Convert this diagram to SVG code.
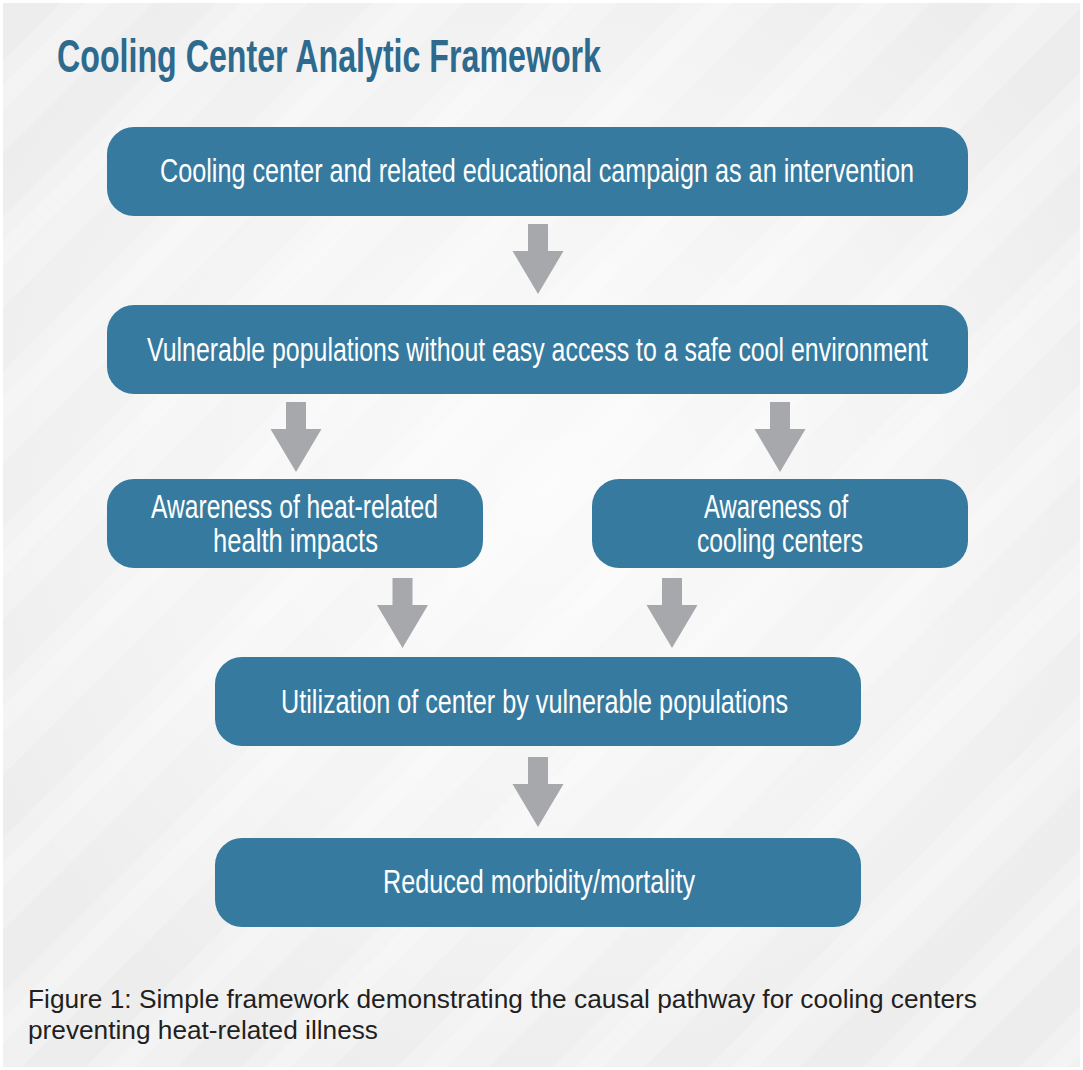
<svg xmlns="http://www.w3.org/2000/svg" width="1083" height="1070" viewBox="0 0 1083 1070">
  <defs>
    <pattern id="stripes" patternUnits="userSpaceOnUse" width="110" height="110" patternTransform="rotate(-45)">
      <rect x="0" y="0" width="110" height="110" fill="#f0f0f1"/>
      <rect x="0" y="0" width="110" height="45" fill="#ececed"/>
      <rect x="0" y="62" width="110" height="18" fill="#f3f3f4"/>
    </pattern>
    <radialGradient id="glow" cx="0.5" cy="0.45" r="0.6">
      <stop offset="0" stop-color="#ffffff" stop-opacity="0.75"/>
      <stop offset="0.6" stop-color="#ffffff" stop-opacity="0.4"/>
      <stop offset="1" stop-color="#ffffff" stop-opacity="0.05"/>
    </radialGradient>
    <path id="arrow" d="M-10,0 H10 V27 H25.5 L0,70 L-25.5,27 H-10 Z"/>
    <style>
      .box { fill: #367b9f; }
      .bt { font-family: "Liberation Sans", "DejaVu Sans", sans-serif; font-size: 25px; fill: #ffffff; text-anchor: middle; }
      .arr { fill: #a7a8ab; }
      .title { font-family: "Liberation Sans", "DejaVu Sans", sans-serif; font-weight: bold; font-size: 46px; fill: #2d6a8d; }
      .cap { font-family: "Liberation Sans", "DejaVu Sans", sans-serif; font-size: 25px; fill: #231f20; }
    </style>
  </defs>

  <rect x="0" y="0" width="1083" height="1070" fill="#ffffff"/>
  <rect x="3" y="3" width="1077" height="1064" fill="url(#stripes)"/>
  <rect x="3" y="3" width="1077" height="1064" fill="url(#glow)"/>

  <text class="title" x="57" y="72" textLength="544" lengthAdjust="spacingAndGlyphs">Cooling Center Analytic Framework</text>

  <g id="connectors">
    <use href="#arrow" class="arr" x="538" y="224"/>
    <use href="#arrow" class="arr" x="296" y="402"/>
    <use href="#arrow" class="arr" x="780" y="402"/>
    <use href="#arrow" class="arr" x="402.5" y="578"/>
    <use href="#arrow" class="arr" x="672" y="578"/>
    <use href="#arrow" class="arr" x="538" y="757"/>
  </g>

  <g id="node-intervention">
    <rect class="box" x="107" y="127" width="861" height="89" rx="27"/>
    <text class="bt" transform="matrix(1 0 0 1.32 537 182)" textLength="754" lengthAdjust="spacingAndGlyphs">Cooling center and related educational campaign as an intervention</text>
  </g>

  <g id="node-vulnerable">
    <rect class="box" x="107" y="305" width="861" height="89" rx="27"/>
    <text class="bt" transform="matrix(1 0 0 1.32 537.5 361)" textLength="781" lengthAdjust="spacingAndGlyphs">Vulnerable populations without easy access to a safe cool environment</text>
  </g>

  <g id="node-awareness-health">
    <rect class="box" x="107" y="479" width="376" height="89" rx="27"/>
    <text class="bt" transform="matrix(1 0 0 1.32 294.5 518)" textLength="287" lengthAdjust="spacingAndGlyphs">Awareness of heat-related</text>
    <text class="bt" transform="matrix(1 0 0 1.32 295.5 552)" textLength="165" lengthAdjust="spacingAndGlyphs">health impacts</text>
  </g>

  <g id="node-awareness-centers">
    <rect class="box" x="592" y="479" width="376" height="89" rx="27"/>
    <text class="bt" transform="matrix(1 0 0 1.32 776 518)" textLength="144" lengthAdjust="spacingAndGlyphs">Awareness of</text>
    <text class="bt" transform="matrix(1 0 0 1.32 780 552)" textLength="166" lengthAdjust="spacingAndGlyphs">cooling centers</text>
  </g>

  <g id="node-utilization">
    <rect class="box" x="215" y="657" width="646" height="89" rx="27"/>
    <text class="bt" transform="matrix(1 0 0 1.32 534.5 713)" textLength="507" lengthAdjust="spacingAndGlyphs">Utilization of center by vulnerable populations</text>
  </g>

  <g id="node-reduced">
    <rect class="box" x="215" y="838" width="646" height="89" rx="27"/>
    <text class="bt" transform="matrix(1 0 0 1.32 539 893)" textLength="312" lengthAdjust="spacingAndGlyphs">Reduced morbidity/mortality</text>
  </g>

  <text class="cap" x="28" y="1008" textLength="949" lengthAdjust="spacingAndGlyphs">Figure 1: Simple framework demonstrating the causal pathway for cooling centers</text>
  <text class="cap" x="28" y="1039" textLength="350" lengthAdjust="spacingAndGlyphs">preventing heat-related illness</text>
</svg>
